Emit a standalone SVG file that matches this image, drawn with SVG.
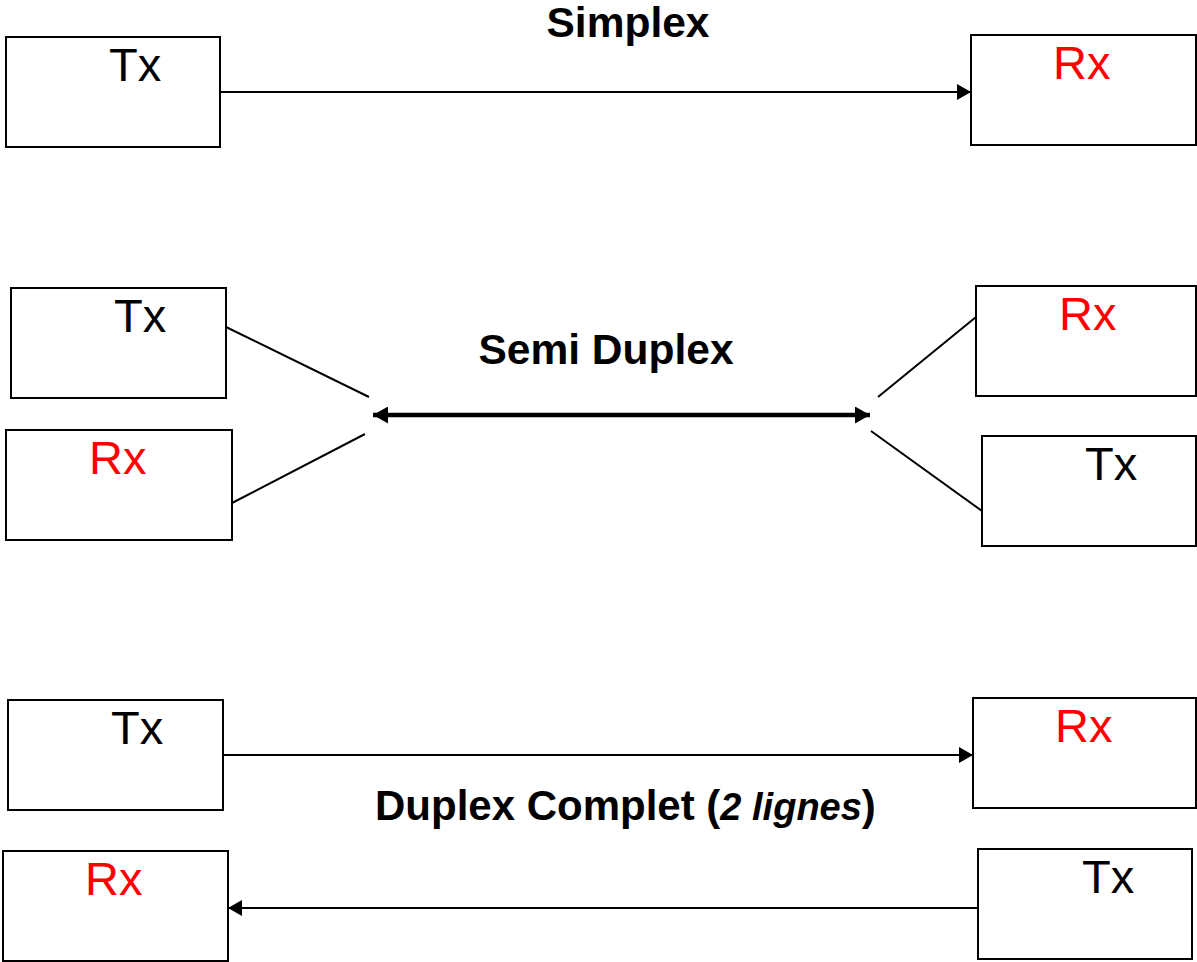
<svg xmlns="http://www.w3.org/2000/svg" width="1197" height="962" viewBox="0 0 1197 962">
  <style>
    .box { fill: #fff; stroke: #000; stroke-width: 2; }
    .lbl { font-family: "Liberation Sans", Arial, sans-serif; font-size: 47px; }
    .tx { fill: #000; }
    .rx { fill: #ff0000; }
    .title { font-family: "Liberation Sans", Arial, sans-serif; font-weight: bold; fill: #000; }
    .wire { fill: none; stroke: #000; stroke-width: 2; }
    .bus { fill: none; stroke: #000; stroke-width: 4.5; }
  </style>
  <defs>
    <marker id="arrow" viewBox="0 0 14 16" refX="14" refY="8" markerWidth="14" markerHeight="16" markerUnits="userSpaceOnUse" orient="auto-start-reverse">
      <path d="M0,0 L14,8 L0,16 Z" fill="#000"/>
    </marker>
    <marker id="arrowBold" viewBox="0 0 15 17" refX="15" refY="8.5" markerWidth="15" markerHeight="17" markerUnits="userSpaceOnUse" orient="auto-start-reverse">
      <path d="M0,0 L15,8.5 L0,17 Z" fill="#000"/>
    </marker>
  </defs>

  <rect width="1197" height="962" fill="#fff"/>

  <!-- Section titles -->
  <text class="title" x="628" y="37" font-size="42.5" text-anchor="middle">Simplex</text>
  <text class="title" x="606" y="364" font-size="42.5" text-anchor="middle">Semi Duplex</text>
  <text class="title" x="375" y="820" font-size="42">Duplex Complet (<tspan font-style="italic" font-size="38">2 lignes</tspan>)</text>

  <!-- Simplex -->
  <g id="simplex-tx">
    <rect class="box" x="6" y="37" width="214" height="110"/>
    <text class="lbl tx" x="109" y="81">Tx</text>
  </g>
  <g id="simplex-rx">
    <rect class="box" x="971" y="35" width="225" height="110"/>
    <text class="lbl rx" x="1053" y="79">Rx</text>
  </g>

  <!-- Semi duplex -->
  <g id="semi-tx-left">
    <rect class="box" x="11" y="288" width="215" height="110"/>
    <text class="lbl tx" x="114" y="332">Tx</text>
  </g>
  <g id="semi-rx-left">
    <rect class="box" x="6" y="430" width="226" height="110"/>
    <text class="lbl rx" x="89" y="474">Rx</text>
  </g>
  <g id="semi-rx-right">
    <rect class="box" x="976" y="286" width="220" height="110"/>
    <text class="lbl rx" x="1059" y="330">Rx</text>
  </g>
  <g id="semi-tx-right">
    <rect class="box" x="982" y="436" width="214" height="110"/>
    <text class="lbl tx" x="1085" y="480">Tx</text>
  </g>

  <!-- Full duplex -->
  <g id="duplex-tx-left">
    <rect class="box" x="8" y="700" width="215" height="110"/>
    <text class="lbl tx" x="111" y="744">Tx</text>
  </g>
  <g id="duplex-rx-right">
    <rect class="box" x="973" y="698" width="223" height="110"/>
    <text class="lbl rx" x="1055" y="742">Rx</text>
  </g>
  <g id="duplex-rx-left">
    <rect class="box" x="3" y="851" width="225" height="110"/>
    <text class="lbl rx" x="85" y="895">Rx</text>
  </g>
  <g id="duplex-tx-right">
    <rect class="box" x="978" y="849" width="214" height="110"/>
    <text class="lbl tx" x="1082" y="893">Tx</text>
  </g>

  <!-- Connectors -->
  <g id="connectors">
    <line class="wire" x1="220" y1="92" x2="971" y2="92" marker-end="url(#arrow)"/>

    <line class="wire" x1="226" y1="327" x2="369" y2="397"/>
    <line class="wire" x1="232" y1="503" x2="365" y2="434"/>
    <line class="wire" x1="976" y1="317" x2="878" y2="397"/>
    <line class="wire" x1="871" y1="431" x2="982" y2="511"/>
    <line class="bus" x1="373" y1="415" x2="870" y2="415" marker-start="url(#arrowBold)" marker-end="url(#arrowBold)"/>

    <line class="wire" x1="223" y1="755" x2="973" y2="755" marker-end="url(#arrow)"/>
    <line class="wire" x1="978" y1="908" x2="228" y2="908" marker-end="url(#arrow)"/>
  </g>
</svg>
